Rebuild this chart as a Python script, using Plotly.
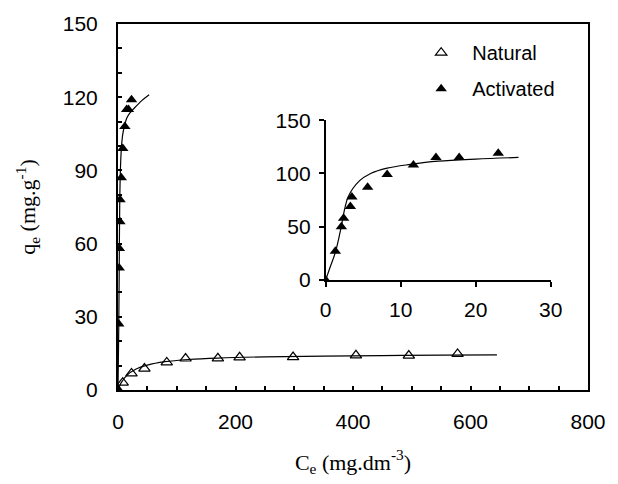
import plotly.graph_objects as go

# Natural (open triangles) - main plot
nat_ce = [0, 8, 23, 45, 83, 115, 170, 207, 298, 405, 495, 578]
nat_q = [0, 3.0, 6.8, 8.8, 11.3, 12.9, 13.0, 13.4, 13.5, 14.2, 14.1, 14.8]
# Natural fitted curve
nat_fit_ce = [0, 5, 15, 30, 50, 80, 120, 170, 250, 350, 450, 550, 645]
nat_fit_q = [0, 2.8, 6.0, 8.5, 10.2, 11.6, 12.5, 13.1, 13.6, 13.9, 14.1, 14.3, 14.4]

# Activated (filled triangles)
act_ce = [0, 1.3, 2.1, 2.4, 3.3, 3.5, 5.6, 8.2, 11.7, 14.7, 17.8, 23.0]
act_q = [0, 27, 50, 58, 69, 78, 87, 99, 108, 115, 115, 119]
# Activated fitted curve
act_fit_ce = [0, 0.6, 1.3, 2.0, 3.0, 4.5, 6.0, 8.2, 11.3, 15, 20, 25.7]
act_fit_q = [0, 12, 26, 47, 78, 93, 100, 105, 108.5, 111.5, 113.5, 115]
act_fit_main_ce = [0, 0.6, 1.3, 2.0, 3.0, 4.5, 6.0, 8.2, 11.3, 15, 20, 25.7, 40, 53]
act_fit_main_q = [0, 12, 26, 47, 78, 93, 100, 105, 108.5, 111.5, 113.5, 115, 118.5, 121]

main_xticks = [0, 200, 400, 600, 800]
main_yticks = [0, 30, 60, 90, 120, 150]
inset_xticks = [0, 10, 20, 30]
inset_yticks = [0, 50, 100, 150]

tickfont = dict(family="Liberation Sans, Arial, sans-serif", size=21, color="black")
titlefont = dict(family="Liberation Serif, Times New Roman, serif", size=22, color="black")

fig = go.Figure()

# main plot
fig.add_trace(go.Scatter(x=nat_fit_ce, y=nat_fit_q, mode="lines", line=dict(color="black", width=1.2, shape="spline"),
                         showlegend=False, xaxis="x", yaxis="y"))
fig.add_trace(go.Scatter(x=act_fit_main_ce, y=act_fit_main_q, mode="lines", line=dict(color="black", width=1.2, shape="spline"),
                         showlegend=False, xaxis="x", yaxis="y"))
fig.add_trace(go.Scatter(x=nat_ce, y=nat_q, mode="markers", name="\u00a0\u00a0Natural", legendgroup="n",
                         marker=dict(symbol="triangle-up-open", size=10, color="black", line=dict(width=1.2)),
                         xaxis="x", yaxis="y"))
fig.add_trace(go.Scatter(x=act_ce, y=act_q, mode="markers", name="\u00a0\u00a0Activated", legendgroup="a",
                         marker=dict(symbol="triangle-up", size=10, color="black"),
                         xaxis="x", yaxis="y"))

# inset
fig.add_trace(go.Scatter(x=act_fit_ce, y=act_fit_q, mode="lines", line=dict(color="black", width=1.2, shape="spline"),
                         showlegend=False, xaxis="x2", yaxis="y2"))
fig.add_trace(go.Scatter(x=act_ce, y=act_q, mode="markers", showlegend=False,
                         marker=dict(symbol="triangle-up", size=10, color="black"),
                         xaxis="x2", yaxis="y2"))

fig.update_layout(
    width=618, height=484,
    margin=dict(l=118, r=20, t=17, b=94),
    paper_bgcolor="white", plot_bgcolor="white",
    showlegend=True,
    legend=dict(x=0.645, y=0.975, xanchor="left", yanchor="top", bgcolor="rgba(0,0,0,0)",
                font=dict(family="Liberation Sans, Arial, sans-serif", size=20, color="black"),
                itemwidth=30, tracegroupgap=7),
    xaxis=dict(domain=[0, 1], range=[0, 800], tickvals=main_xticks, ticks="inside", ticklen=4,
               tickcolor="black", tickwidth=1.5, showline=True, linecolor="black", linewidth=2, mirror=True,
               showgrid=False, zeroline=False, tickfont=tickfont, ticklabelstandoff=12,
               minor=dict(dtick=50, ticks="inside", ticklen=4, tickcolor="black", tickwidth=1.5, showgrid=False),
               title=dict(text="C<sub>e</sub> (mg.dm<sup>-3</sup>)", font=titlefont, standoff=22)),
    yaxis=dict(domain=[0, 1], range=[0, 150], tickvals=main_yticks, ticks="inside", ticklen=4,
               tickcolor="black", tickwidth=1.5, showline=True, linecolor="black", linewidth=2, mirror=True,
               showgrid=False, zeroline=False, tickfont=tickfont, ticklabelstandoff=14,
               minor=dict(dtick=10, ticks="inside", ticklen=4, tickcolor="black", tickwidth=1.5, showgrid=False),
               title=dict(text="q<sub>e</sub> (mg.g<sup>-1</sup>)", font=titlefont, standoff=21)),
    xaxis2=dict(domain=[0.4417, 0.9208], anchor="y2", range=[0, 30], tickvals=inset_xticks, ticks="outside",
                ticklen=5, tickcolor="black", tickwidth=1.5, showline=True, linecolor="black", linewidth=1.5,
                showgrid=False, zeroline=False, tickfont=tickfont, ticklabelstandoff=5),
    yaxis2=dict(domain=[0.3003, 0.7373], anchor="x2", range=[0, 150], tickvals=inset_yticks, ticks="outside",
                ticklen=5, tickcolor="black", tickwidth=1.5, showline=True, linecolor="black", linewidth=1.5,
                showgrid=False, zeroline=False, tickfont=tickfont, ticklabelstandoff=4),
)

fig.write_html("out.html")
